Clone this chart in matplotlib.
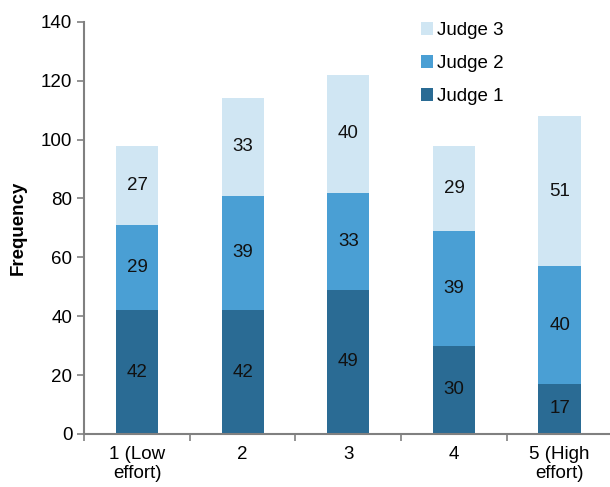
import matplotlib
matplotlib.use("Agg")
import matplotlib.pyplot as plt
import numpy as np

plt.rcParams['font.family'] = ['Liberation Sans', 'DejaVu Sans']

categories = ["1 (Low\neffort)", "2", "3", "4", "5 (High\neffort)"]
judge1 = [42, 42, 49, 30, 17]
judge2 = [29, 39, 33, 39, 40]
judge3 = [27, 33, 40, 29, 51]
series_names = ["Judge 1", "Judge 2", "Judge 3"]
colors = ["#2A6B94", "#4A9FD4", "#D0E6F3"]

fs = 13.5
fig = plt.figure(figsize=(6.10, 4.87), dpi=100)
ax = fig.add_axes([0.138, 0.109, 0.866, 0.846])

x = np.arange(len(categories))
bottom = np.zeros(len(categories))
handles = []
for vals, name, c in zip([judge1, judge2, judge3], series_names, colors):
    vals = np.array(vals, dtype=float)
    b = ax.bar(x, vals, bottom=bottom, width=0.4, color=c, label=name)
    handles.append(b)
    for xi, v, bt in zip(x, vals, bottom):
        ax.text(xi, bt + v / 2, f"{int(v)}", ha='center', va='center', fontsize=fs, color='#111111')
    bottom += vals

ax.set_xlim(-0.5, 4.5)
ax.set_ylim(0, 140)
ax.set_yticks(range(0, 141, 20))
ax.set_xticks(x)
ax.set_xticklabels(categories, fontsize=fs, linespacing=1.1)
ax.set_xticks(np.arange(-0.5, 4.6, 1), minor=True)
ax.tick_params(axis='x', which='major', length=0, pad=9)
ax.tick_params(axis='x', which='minor', length=5, color='#808080', width=1.2)
ax.tick_params(axis='y', length=5, color='#808080', width=1.2, labelsize=fs)
for s in ['top', 'right']:
    ax.spines[s].set_visible(False)
for s in ['left', 'bottom']:
    ax.spines[s].set_color('#808080')
    ax.spines[s].set_linewidth(1.5)
ax.set_ylabel("Frequency", fontsize=fs, fontweight='bold', labelpad=10)

leg = ax.legend(handles[::-1], series_names[::-1], loc='upper left', bbox_to_anchor=(0.605, 1.04),
                frameon=False, fontsize=fs, handlelength=0.65, handleheight=0.65,
                handletextpad=0.2, labelspacing=0.85)

fig.savefig("out.png", dpi=100)
